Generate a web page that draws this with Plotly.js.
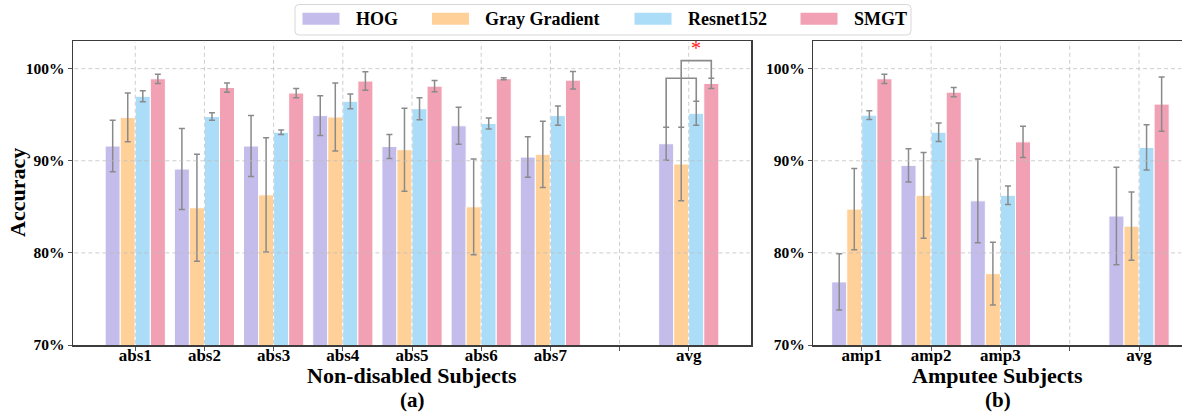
<!DOCTYPE html>
<html>
<head>
<meta charset="utf-8">
<script src="https://cdn.plot.ly/plotly-3.0.1.min.js"></script>
<style>html,body{margin:0;padding:0;background:#fff;}#chart{width:1182px;height:412px;}</style>
</head>
<body>
<div id="chart"></div>
<script>
// ---------- data ----------
const methods = ['HOG', 'Gray Gradient', 'Resnet152', 'SMGT'];

const leftCats = ['abs1', 'abs2', 'abs3', 'abs4', 'abs5', 'abs6', 'abs7', ' ', 'avg'];
const leftHOG      = [91.6, 89.1, 91.6, 94.9, 91.55, 93.8, 90.4, null, 91.85];
const leftHOGErr   = [2.8, 4.4, 3.3, 2.15, 1.3, 2.0, 2.2, null, 1.8];
const leftGray     = [94.7, 84.9, 86.3, 94.75, 91.2, 85.0, 90.7, null, 89.65];
const leftGrayErr  = [2.65, 5.8, 6.2, 3.7, 4.5, 5.2, 3.6, null, 4.0];
const leftRes      = [97.0, 94.8, 93.1, 96.45, 95.65, 94.05, 94.9, null, 95.15];
const leftResErr   = [0.6, 0.4, 0.25, 0.8, 1.2, 0.6, 1.05, null, 1.3];
const leftSMGT     = [98.9, 97.95, 97.35, 98.65, 98.1, 98.9, 98.75, null, 98.4];
const leftSMGTErr  = [0.5, 0.5, 0.5, 1.0, 0.6, 0.1, 0.95, null, 0.56];

const rightCats = ['amp1', 'amp2', 'amp3', ' ', 'avg'];
const rightHOG     = [76.85, 89.5, 85.65, null, 84.0];
const rightHOGErr  = [3.05, 1.8, 4.55, null, 5.3];
const rightGray    = [84.75, 86.25, 77.75, null, 82.9];
const rightGrayErr = [4.4, 4.65, 3.4, null, 3.7];
const rightRes     = [94.95, 93.1, 86.25, null, 91.45];
const rightResErr  = [0.47, 1.0, 1.0, null, 2.45];
const rightSMGT    = [98.9, 97.45, 92.05, null, 96.15];
const rightSMGTErr = [0.5, 0.5, 1.7, null, 2.95];

const yTicks = [70, 80, 90, 100];
const yTickText = ['70%', '80%', '90%', '100%'];

const yTitle = 'Accuracy';
const leftTitle = ['Non-disabled Subjects', '(a)'];
const rightTitle = ['Amputee Subjects', '(b)'];

// significance brackets on the left "avg" group: method index pairs, bracket heights
const bracketCat = 'avg';
const bracketPairs = [[0, 2], [1, 3]];
const bracketHeights = [98.95, 100.87];
const bracketStars = ['', '*'];

// ---------- styles ----------
const colors = ['#C4BCEB', '#FFD199', '#ABDCF8', '#F2A1B4'];
const serif = 'Liberation Serif, Times New Roman, serif';
const bargap = 0.13;
const nBars = methods.length;
const barW = (1 - bargap) / nBars;
const errColor = '#8a8a8a';
const gridColor = 'rgba(190,190,190,0.75)';
const axisColor = '#3c3c3c';

const leftVals = [leftHOG, leftGray, leftRes, leftSMGT];
const leftErrs = [leftHOGErr, leftGrayErr, leftResErr, leftSMGTErr];
const rightVals = [rightHOG, rightGray, rightRes, rightSMGT];
const rightErrs = [rightHOGErr, rightGrayErr, rightResErr, rightSMGTErr];

const traces = [];
function addTraces(cats, vals, errs, xa, ya) {
  methods.forEach((m, i) => {
    traces.push({
      type: 'bar', name: m, x: cats, y: vals[i], xaxis: xa, yaxis: ya,
      marker: {color: colors[i], line: {color: '#ffffff', width: 1}},
      error_y: {type: 'data', array: errs[i], visible: true, color: errColor, thickness: 1.5, width: 3},
      showlegend: false, hoverinfo: 'x+y+name'
    });
  });
}
addTraces(leftCats, leftVals, leftErrs, 'x', 'y');
addTraces(rightCats, rightVals, rightErrs, 'x2', 'y2');

const shapes = [];
const annotations = [];

// grid lines (drawn above bars, as in the reference)
function addGrid(cats, xa, ya) {
  cats.forEach((c, k) => {
    shapes.push({type: 'line', layer: 'above', xref: xa, yref: ya + ' domain', x0: k, x1: k, y0: 0.004, y1: 0.996,
      line: {color: gridColor, width: 1, dash: '4px,3px'}});
  });
  yTicks.slice(1).forEach(t => {
    shapes.push({type: 'line', layer: 'above', xref: xa + ' domain', yref: ya, x0: 0.002, x1: 0.998, y0: t, y1: t,
      line: {color: gridColor, width: 1, dash: '4px,3px'}});
  });
}
addGrid(leftCats, 'x', 'y');
addGrid(rightCats, 'x2', 'y2');

// brackets
const bIdx = leftCats.indexOf(bracketCat);
bracketPairs.forEach((p, j) => {
  const xa = bIdx + (p[0] - (nBars - 1) / 2) * barW;
  const xb = bIdx + (p[1] - (nBars - 1) / 2) * barW;
  const ya0 = leftVals[p[0]][bIdx] + leftErrs[p[0]][bIdx];
  const yb0 = leftVals[p[1]][bIdx] + leftErrs[p[1]][bIdx];
  const h = bracketHeights[j];
  shapes.push({type: 'path', layer: 'above', xref: 'x', yref: 'y',
    path: `M${xa},${ya0} L${xa},${h} L${xb},${h} L${xb},${yb0}`,
    line: {color: errColor, width: 1.6}});
  if (bracketStars[j]) {
    annotations.push({xref: 'x', yref: 'y', x: (xa + xb) / 2, y: h + 1.35, text: bracketStars[j],
      showarrow: false, font: {family: serif, size: 20, color: '#ff2020'}, yanchor: 'middle'});
  }
});

// pixel helpers
const W = 1182, H = 412, ml = 73, mt = 41, mb = 67;
const pw = W - ml, ph = H - mt - mb;
const px = v => (v - ml) / pw;
const py = v => (H - mb - v) / ph;

// custom legend (wide swatches as in the reference)
const legBox = {x0: 295, x1: 911, y0: 4.5, y1: 35, r: 4};
const legTextX = [353.5, 483, 685.5, 851.5];
const swW = 37, swH = 12, swGap = 14, legMidY = 19.3;
{
  const b = legBox, rx = b.r;
  const path = `M${px(b.x0 + rx)},${py(b.y0)} L${px(b.x1 - rx)},${py(b.y0)} Q${px(b.x1)},${py(b.y0)} ${px(b.x1)},${py(b.y0 + rx)} ` +
    `L${px(b.x1)},${py(b.y1 - rx)} Q${px(b.x1)},${py(b.y1)} ${px(b.x1 - rx)},${py(b.y1)} L${px(b.x0 + rx)},${py(b.y1)} ` +
    `Q${px(b.x0)},${py(b.y1)} ${px(b.x0)},${py(b.y1 - rx)} L${px(b.x0)},${py(b.y0 + rx)} Q${px(b.x0)},${py(b.y0)} ${px(b.x0 + rx)},${py(b.y0)} Z`;
  shapes.push({type: 'path', xref: 'paper', yref: 'paper', layer: 'above', path: path,
    line: {color: '#d8d8d8', width: 1}, fillcolor: 'rgba(255,255,255,0.85)'});
}
methods.forEach((m, i) => {
  const tx = legTextX[i];
  shapes.push({type: 'rect', xref: 'paper', yref: 'paper', layer: 'above',
    x0: px(tx - swGap - swW), x1: px(tx - swGap), y0: py(legMidY - swH / 2 - 0.5), y1: py(legMidY + swH / 2 - 0.5),
    fillcolor: colors[i], line: {width: 0}});
  annotations.push({xref: 'paper', yref: 'paper', x: px(tx), y: py(legMidY), xanchor: 'left', yanchor: 'middle',
    text: m, showarrow: false, font: {family: serif, size: 18, color: '#000', weight: 'bold'}});
});

const titleFont = {family: serif, size: 22, color: '#000', weight: 'bold'};
const subFont = {family: serif, size: 21, color: '#000', weight: 'bold'};

// axis titles placed as in the reference
const leftDom = [0, (751 - ml) / pw];
const rightDom = [(813.3 - ml) / pw, 1];
annotations.push({xref: 'paper', yref: 'paper', x: px(17), y: 0.5, textangle: -90, text: yTitle,
  showarrow: false, xanchor: 'center', yanchor: 'middle', font: titleFont});
[[leftDom, leftTitle], [rightDom, rightTitle]].forEach(([dom, lines]) => {
  const cx = (dom[0] + dom[1]) / 2;
  annotations.push({xref: 'paper', yref: 'paper', x: cx, y: py(375.5), text: lines[0], showarrow: false,
    xanchor: 'center', yanchor: 'middle', font: titleFont});
  annotations.push({xref: 'paper', yref: 'paper', x: cx, y: py(399.5), text: lines[1], showarrow: false,
    xanchor: 'center', yanchor: 'middle', font: subFont});
});

const tickFontX = {family: serif, size: 17, color: '#000', weight: 'bold'};
const tickFontY = {family: serif, size: 15.5, color: '#000', weight: 'bold'};

const xBase = {type: 'category', categoryorder: 'array', showline: true, linecolor: axisColor, linewidth: 1.5,
  mirror: true, ticks: 'outside', ticklen: 4, tickcolor: '#555', tickwidth: 1, showgrid: false,
  tickfont: tickFontX, ticklabelstandoff: -10, zeroline: false, automargin: false, layer: 'above traces', fixedrange: true};
const yBase = {range: [70, 103], tickmode: 'array', tickvals: yTicks, ticktext: yTickText, showline: true,
  linecolor: axisColor, linewidth: 1.5,
  ticks: 'outside', ticklen: 4, tickcolor: '#555', tickwidth: 1, showgrid: false, zeroline: false,
  tickfont: tickFontY, automargin: false, layer: 'above traces', fixedrange: true};

const layout = {
  width: W, height: H,
  margin: {l: ml, r: 0, t: mt, b: mb, pad: 0},
  paper_bgcolor: '#fff', plot_bgcolor: '#fff',
  barmode: 'group', bargap: bargap, bargroupgap: 0,
  showlegend: false,
  xaxis: Object.assign({}, xBase, {domain: leftDom, anchor: 'y', categoryarray: leftCats, range: [-0.9, 8.9]}),
  yaxis: Object.assign({}, yBase, {anchor: 'x', mirror: true}),
  xaxis2: Object.assign({}, xBase, {domain: rightDom, anchor: 'y2', categoryarray: rightCats, range: [-0.7, 4.62]}),
  yaxis2: Object.assign({}, yBase, {anchor: 'x2', mirror: false}),
  shapes: shapes,
  annotations: annotations
};

Plotly.newPlot('chart', traces, layout, {displayModeBar: false, staticPlot: true});
</script>
</body>
</html>
